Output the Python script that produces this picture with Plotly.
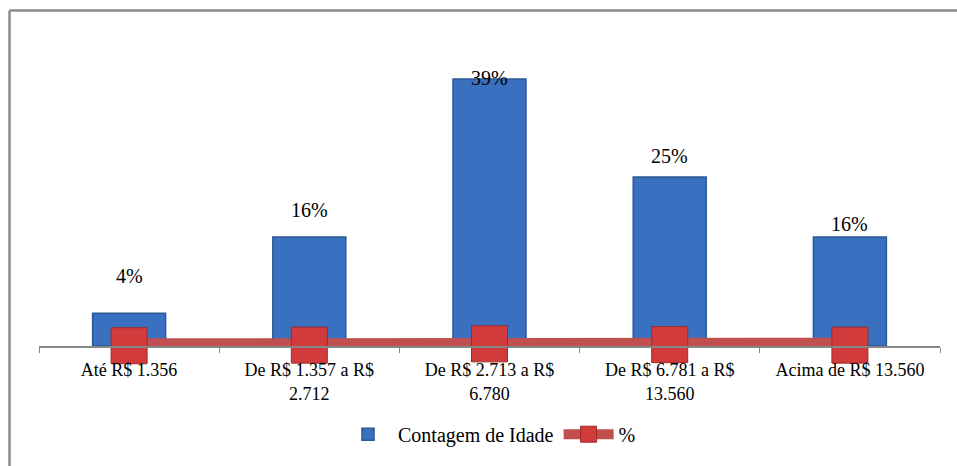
import plotly.graph_objects as go

categories = ["Até R$ 1.356", "De R$ 1.357 a R$ 2.712", "De R$ 2.713 a R$ 6.780",
              "De R$ 6.781 a R$ 13.560", "Acima de R$ 13.560"]
tick_labels = ["Até R$ 1.356", "De R$ 1.357 a R$<br>2.712", "De R$ 2.713 a R$<br>6.780",
               "De R$ 6.781 a R$<br>13.560", "Acima de R$ 13.560"]
counts = [6, 20, 49, 31, 20]
pct = [0.04, 0.16, 0.39, 0.25, 0.16]
pct_labels = ["4%", "16%", "39%", "25%", "16%"]
label_shift = [37, 27, 1, 21, 13]

W, H = 957, 466
ML, MR, MT, MB = 39, 17, 19, 117
pw, ph = W - ML - MR, H - MT - MB
SERIF = "Liberation Serif, Times New Roman, Times, serif"

fig = go.Figure()
fig.add_trace(go.Bar(
    x=categories, y=counts, name="Contagem de Idade",
    marker=dict(color="#3a70c0", line=dict(color="#2c5894", width=1.5)),
))
fig.add_trace(go.Scatter(
    x=categories, y=pct, name="%", mode="lines+markers",
    line=dict(color="#c0504d", width=15),
    marker=dict(symbol="square", size=36, color="#d23b3b",
                line=dict(color="#a02a2a", width=1)),
    cliponaxis=False,
))

for c, v, t, s in zip(categories, counts, pct_labels, label_shift):
    fig.add_annotation(x=c, y=v, text=t, showarrow=False, yanchor="middle",
                       yshift=s, font=dict(family=SERIF, size=20, color="#000"))

def px_x(p):
    return (p - ML) / pw

def px_y(p):
    return (H - MB - p) / ph

border = dict(color="#8a8a8a", width=2.5)
fig.add_shape(type="line", xref="paper", yref="paper",
              x0=px_x(9.5), x1=px_x(960), y0=px_y(10.5), y1=px_y(10.5), line=border)
fig.add_shape(type="line", xref="paper", yref="paper",
              x0=px_x(9.5), x1=px_x(9.5), y0=px_y(10.5), y1=px_y(470), line=border)

fig.update_layout(
    width=W, height=H,
    margin=dict(l=ML, r=MR, t=MT, b=MB),
    paper_bgcolor="white", plot_bgcolor="white",
    bargap=0.595,
    font=dict(family=SERIF, color="#000"),
    showlegend=True,
    legend=dict(orientation="h", x=0.5, xanchor="center", y=px_y(438), yanchor="middle",
                font=dict(family=SERIF, size=20), itemwidth=50, traceorder="normal"),
    xaxis=dict(type="category", tickvals=categories, ticktext=tick_labels,
               showline=True, linecolor="#878787", linewidth=1.5,
               ticks="outside", tickson="boundaries", ticklen=5, tickcolor="#878787",
               ticklabelstandoff=7,
               tickfont=dict(family=SERIF, size=18, color="#000"), showgrid=False),
    yaxis=dict(range=[0, 60], visible=False, showgrid=False, zeroline=False),
)

fig.write_html("out.html", config={"displayModeBar": False},
               post_script="document.body.style.margin='0px';document.body.style.overflow='hidden';")
